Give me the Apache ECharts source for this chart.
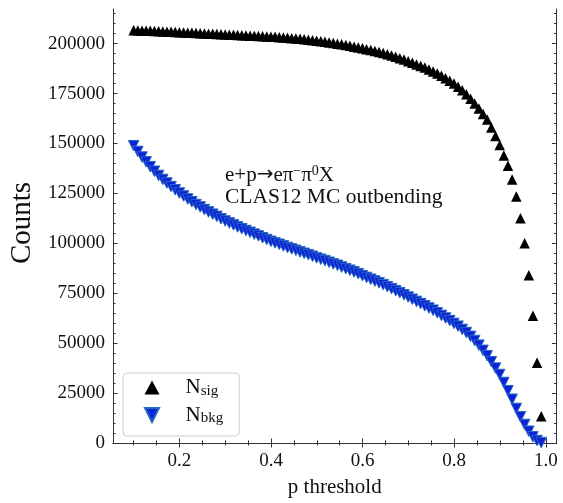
<!DOCTYPE html>
<html>
<head>
<meta charset="utf-8">
<script src="https://cdn.jsdelivr.net/npm/echarts@6/dist/echarts.min.js"></script>
<style>
  html, body { margin: 0; padding: 0; background: #fff; }
  #main { width: 563px; height: 503px; }
</style>
</head>
<body>
<div id="main"></div>
<script>
// p threshold grid
var thresholds = [
  0.1000, 0.1091, 0.1182, 0.1272, 0.1363, 0.1454, 0.1545, 0.1636, 0.1727, 0.1817,
  0.1908, 0.1999, 0.2090, 0.2181, 0.2271, 0.2362, 0.2453, 0.2544, 0.2635, 0.2726,
  0.2816, 0.2907, 0.2998, 0.3089, 0.3180, 0.3270, 0.3361, 0.3452, 0.3543, 0.3634,
  0.3724, 0.3815, 0.3906, 0.3997, 0.4088, 0.4179, 0.4269, 0.4360, 0.4451, 0.4542,
  0.4633, 0.4723, 0.4814, 0.4905, 0.4996, 0.5087, 0.5177, 0.5268, 0.5359, 0.5450,
  0.5541, 0.5632, 0.5722, 0.5813, 0.5904, 0.5995, 0.6086, 0.6177, 0.6267, 0.6358,
  0.6449, 0.6540, 0.6631, 0.6722, 0.6812, 0.6903, 0.6994, 0.7085, 0.7176, 0.7267,
  0.7357, 0.7448, 0.7539, 0.7630, 0.7721, 0.7811, 0.7902, 0.7993, 0.8084, 0.8175,
  0.8265, 0.8356, 0.8447, 0.8538, 0.8629, 0.8719, 0.8810, 0.8901, 0.8992, 0.9083,
  0.9173, 0.9264, 0.9355, 0.9446, 0.9537, 0.9628, 0.9718, 0.9809, 0.9900
];

// N_sig counts
var nSig = [
  206700, 206600, 206500, 206500, 206400, 206300, 206200, 206100, 206000, 205900,
  205800, 205700, 205600, 205500, 205400, 205300, 205200, 205100, 205000, 204900,
  204800, 204700, 204600, 204500, 204400, 204300, 204200, 204100, 204000, 203900,
  203800, 203700, 203600, 203500, 203400, 203200, 203100, 202900, 202700, 202600,
  202400, 202200, 201900, 201700, 201500, 201200, 200900, 200600, 200300, 200000,
  199700, 199300, 198900, 198500, 198100, 197700, 197200, 196800, 196300, 195800,
  195300, 194700, 194100, 193400, 192700, 192000, 191200, 190400, 189600, 188800,
  188000, 187000, 186000, 185000, 183900, 182700, 181400, 180000, 178400, 176600,
  174600, 172400, 170000, 167500, 164800, 162000, 158000, 153700, 149200, 144000,
  138800, 132000, 123500, 112500, 100000, 84000, 63700, 40200, 13400
];

// N_bkg counts
var nBkg = [
  148900, 146000, 143200, 140800, 138400, 136100, 134000, 132000, 130200, 128400,
  126800, 125200, 123700, 122200, 120800, 119400, 118200, 116900, 115700, 114600,
  113500, 112300, 111200, 110200, 109200, 108200, 107300, 106400, 105500, 104600,
  103700, 102800, 101900, 101000, 100200, 99500, 98700, 97900, 97200, 96500,
  95700, 95000, 94300, 93500, 92700, 92000, 91300, 90500, 89700, 89000,
  88100, 87300, 86500, 85700, 84800, 83800, 82900, 82000, 81100, 80200,
  79300, 78300, 77300, 76300, 75300, 74200, 73100, 72000, 70900, 69800,
  68700, 67600, 66500, 65200, 63900, 62600, 61300, 59900, 58500, 56900,
  55300, 53400, 51300, 49000, 46400, 43700, 40700, 37500, 34300, 30300,
  26200, 21900, 17300, 13100, 9300, 5900, 3100, 1200, 200
];

// tick values
var xMajor = [0.2, 0.4, 0.6, 0.8, 1.0];
var xMinor = [0.1, 0.15, 0.25, 0.3, 0.35, 0.45, 0.5, 0.55, 0.65, 0.7, 0.75, 0.85, 0.9, 0.95];
var yMajor = [0, 25000, 50000, 75000, 100000, 125000, 150000, 175000, 200000];
var yMinor = [];
for (var v = 5000; v < 217000; v += 5000) {
    if (v % 25000 !== 0) yMinor.push(v);
}

var X_MIN = 0.0549, X_MAX = 1.0233;
var Y_MIN = 0, Y_MAX = 217350;

var SERIF = "'Liberation Serif', 'DejaVu Serif', serif";
var INK = '#111';
var SPINE = '#333';

var sigData = thresholds.map(function (t, i) { return [t, nSig[i]]; });
var bkgData = thresholds.map(function (t, i) { return [t, nBkg[i]]; });

var DOWN_TRI = 'path://M0,0L10,0L5,10Z';

function xAxisOf(pos, ticks, len, showLine, showLabel) {
    var ax = {
        type: 'value', position: pos, min: X_MIN, max: X_MAX,
        axisLine: { show: showLine, lineStyle: { color: SPINE, width: 1 } },
        axisTick: { show: true, inside: true, length: len, customValues: ticks,
                    lineStyle: { color: SPINE, width: 1 } },
        axisLabel: { show: showLabel },
        splitLine: { show: false }
    };
    if (showLabel) {
        ax.axisLabel = {
            show: true, customValues: ticks, margin: 9,
            fontFamily: SERIF, fontSize: 19, color: INK,
            formatter: function (v) { return v.toFixed(1); }
        };
    }
    return ax;
}

function yAxisOf(pos, ticks, len, showLine, showLabel) {
    var ax = {
        type: 'value', position: pos, min: Y_MIN, max: Y_MAX,
        axisLine: { show: showLine, lineStyle: { color: SPINE, width: 1 } },
        axisTick: { show: true, inside: true, length: len, customValues: ticks,
                    lineStyle: { color: SPINE, width: 1 } },
        axisLabel: { show: showLabel },
        splitLine: { show: false }
    };
    if (showLabel) {
        ax.axisLabel = {
            show: true, customValues: ticks, margin: 8,
            fontFamily: SERIF, fontSize: 19, color: INK,
            formatter: function (v) { return String(v); }
        };
    }
    return ax;
}

var xBottom = xAxisOf('bottom', xMajor, 4.5, true, true);
xBottom.name = 'p threshold';
xBottom.nameLocation = 'middle';
xBottom.nameGap = 34;
xBottom.nameTextStyle = { fontFamily: SERIF, fontSize: 21, color: INK };

var yLeft = yAxisOf('left', yMajor, 4.5, true, true);
yLeft.name = 'Counts';
yLeft.nameLocation = 'middle';
yLeft.nameGap = 76;
yLeft.nameTextStyle = { fontFamily: SERIF, fontSize: 29, color: INK, padding: [0, 0, 0, 6] };

var chart = echarts.init(document.getElementById('main'), null, { renderer: 'canvas' });

var option = {
    animation: false,
    backgroundColor: '#fff',
    grid: { left: 112, right: 6.5, top: 9, bottom: 55, containLabel: false },
    xAxis: [
        xBottom,
        xAxisOf('bottom', xMinor, 2.5, false, false),
        xAxisOf('top', xMajor, 4.5, true, false),
        xAxisOf('top', xMinor, 2.5, false, false)
    ],
    yAxis: [
        yLeft,
        yAxisOf('left', yMinor, 2.5, false, false),
        yAxisOf('right', yMajor, 4.5, true, false),
        yAxisOf('right', yMinor, 2.5, false, false)
    ],
    legend: {
        orient: 'vertical',
        left: 123, top: 373,
        padding: [4, 16, 10, 21],
        itemWidth: 15, itemHeight: 14, itemGap: 6,
        borderColor: '#cccccc', borderWidth: 1, borderRadius: 4,
        backgroundColor: '#fff',
        data: [
            { name: 'sig', icon: 'triangle' },
            { name: 'bkg', icon: DOWN_TRI }
        ],
        formatter: function (name) { return '{n|N}{s|' + name + '}'; },
        textStyle: {
            rich: {
                n: { fontFamily: SERIF, fontSize: 21, lineHeight: 22, color: INK, padding: [0, 0, 0, 21] },
                s: { fontFamily: SERIF, fontSize: 15, lineHeight: 14, color: INK, verticalAlign: 'bottom' }
            }
        }
    },
    graphic: [
        {
            type: 'text', left: 225, top: 164,
            style: {
                text: 'e+p{ar|\u2192}e\u03c0{sup|\u2212}\u03c0{sup|0}X',
                fontFamily: SERIF, fontSize: 21, fill: INK, lineHeight: 22,
                rich: {
                    ar: { fontFamily: "'DejaVu Sans', sans-serif", fontSize: 20, lineHeight: 22, fill: INK },
                    sup: { fontFamily: SERIF, fontSize: 14, lineHeight: 14, verticalAlign: 'top', fill: INK }
                }
            }
        },
        {
            type: 'text', left: 225, top: 186,
            style: { text: 'CLAS12 MC outbending', fontFamily: SERIF, fontSize: 21.5, fill: INK, lineHeight: 22 }
        }
    ],
    series: [
        {
            name: 'sig', type: 'scatter',
            xAxisIndex: 0, yAxisIndex: 0,
            symbol: 'triangle', symbolSize: 10.5,
            itemStyle: { color: '#000', opacity: 1 },
            data: sigData
        },
        {
            name: 'bkg', type: 'scatter',
            xAxisIndex: 0, yAxisIndex: 0,
            symbol: DOWN_TRI, symbolSize: 10.5,
            itemStyle: { color: '#0b22d8', borderColor: '#2566c0', borderWidth: 1, opacity: 1 },
            data: bkgData
        }
    ]
};

chart.setOption(option);
</script>
</body>
</html>
